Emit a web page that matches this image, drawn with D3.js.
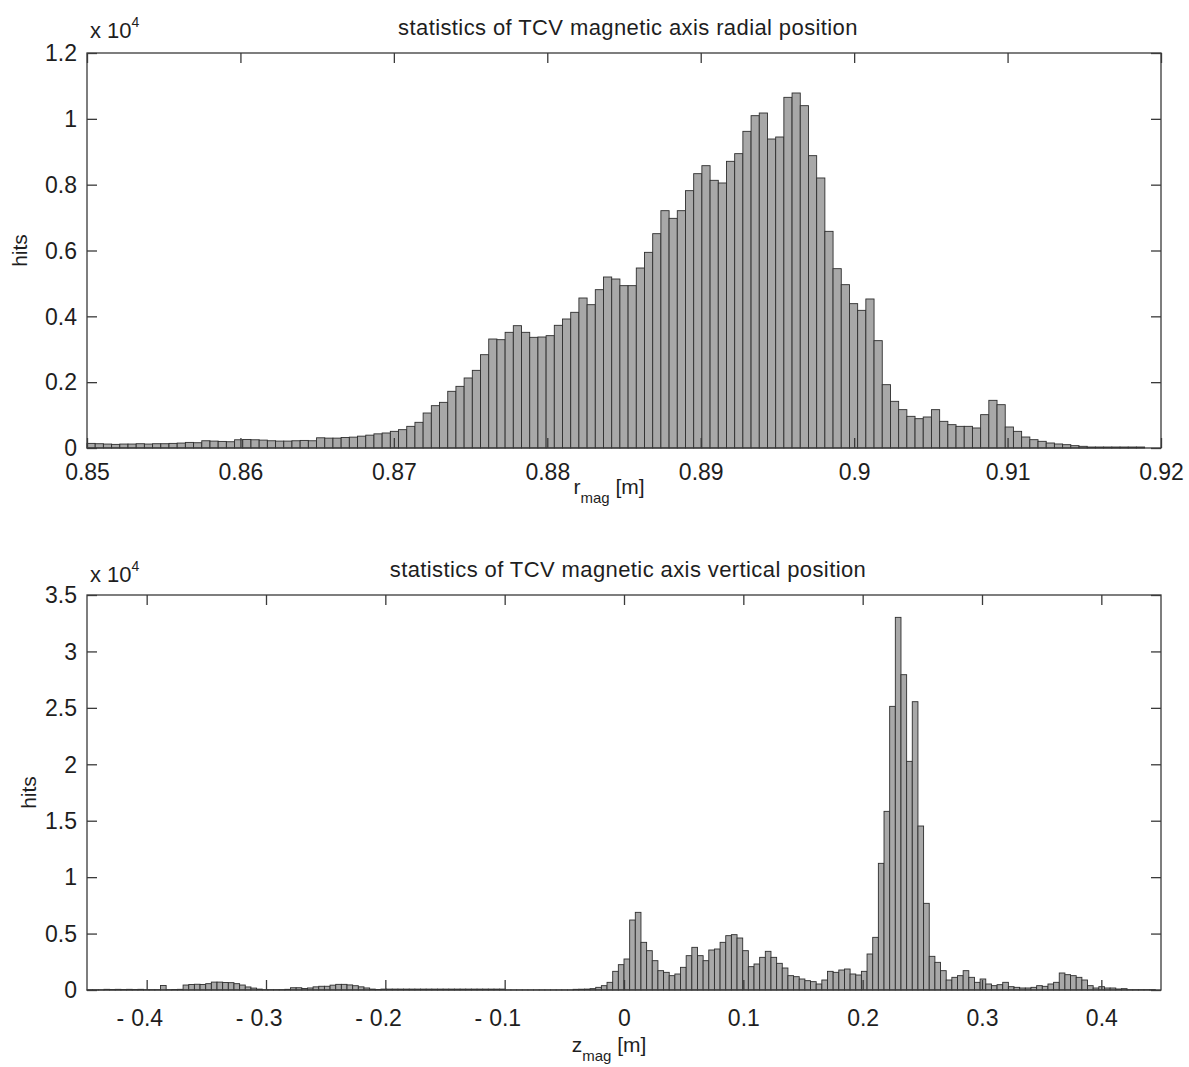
<!DOCTYPE html>
<html><head><meta charset="utf-8">
<script src="https://cdn.jsdelivr.net/npm/d3@7"></script>
<style>
body{margin:0;background:#fff;}
text{font-family:"Liberation Sans",Arial,Helvetica,sans-serif;fill:#1e1e1e;}
</style></head><body>
<svg id="chart" width="1189" height="1067" xmlns="http://www.w3.org/2000/svg"></svg>
<script>
// ---------- data: radial position histogram ----------
const rTitle = "statistics of TCV magnetic axis radial position";
const rBinStart = 0.85, rBinEnd = 0.92;
const rHits = [
  140,130,120,110,120,120,130,120,130,130,140,150,170,160,220,210,200,190,250,260,
  250,240,220,210,210,220,230,220,310,300,300,320,330,360,390,430,
  456,506,557,658,780,1063,1286,1387,1722,1873,2127,2359,2835,3311,3291,3514,3716,3514,
  3362,3372,3413,3727,3919,4122,4557,4354,4810,5195,5134,4932,4932,5468,5944,6511,7210,
  6977,7210,7818,8334,8577,8132,8051,8709,8942,9620,10096,10177,9387,9448,10653,10785,
  10400,8881,8203,6582,5448,4962,4385,4182,4527,3261,1924,1418,1165,962,891,942,1165,
  810,709,658,658,608,1013,1448,1316,638,506,334,253,203,152,122,101,71,51,
  30,30,30,30,30,30,30,0,0
];
const rXTicks = [0.85,0.86,0.87,0.88,0.89,0.90,0.91,0.92];
const rYTicks = [0,2000,4000,6000,8000,10000,12000];

// ---------- data: vertical position histogram ----------
const zTitle = "statistics of TCV magnetic axis vertical position";
const zBinStart = -0.45, zBinEnd = 0.45;
const zHits = [
  20,20,20,60,40,60,40,60,40,60,30,30,30,400,30,40,60,
  440,490,510,490,560,700,700,660,650,560,440,270,170,80,
  30,30,30,30,60,
  200,200,130,180,280,330,330,430,500,500,450,380,280,180,80,40,
  80,80,80,80,80,80,80,80,80,80,80,80,80,80,80,80,80,80,80,80,80,80,
  10,10,10,10,10,10,10,10,10,10,10,10,
  60,70,80,120,
  236,384,679,1654,2245,2747,6202,6881,4223,3485,2599,1713,1565,1270,1418,2008,3042,3780,
  3042,2599,3544,3633,4223,4814,4903,4607,3485,2067,2304,2894,3426,2894,2363,1949,1270,
  1181,975,827,738,532,886,1654,1565,1772,1860,1418,1329,1654,3190,4666,
  11223,15830,25133,33019,27939,20260,25546,14530,7679,2983,2451,1713,886,1122,1270,1713,
  1122,679,975,532,384,
  472,680,295,236,177,177,236,384,325,532,680,1506,1358,1270,1122,886,384,177,295,177,
  177,89,118,30,30,30,30,30,0
];
const zXTicks = [-0.4,-0.3,-0.2,-0.1,0,0.1,0.2,0.3,0.4];
const zYTicks = [0,5000,10000,15000,20000,25000,30000,35000];

const svg = d3.select("#chart");
svg.append("rect").attr("width",1189).attr("height",1067).attr("fill","#fff");

function panel(cfg){
  const g = svg.append("g");
  const x = d3.scaleLinear().domain([cfg.binStart, cfg.binEnd]).range([cfg.left, cfg.right]);
  const y = d3.scaleLinear().domain([0, cfg.yMax]).range([cfg.bottom, cfg.top]);
  const bw = (cfg.binEnd - cfg.binStart) / cfg.hits.length;

  // bars
  g.append("g").selectAll("rect").data(cfg.hits).join("rect")
    .attr("x", (d,i)=>x(cfg.binStart + i*bw))
    .attr("width", (d,i)=>x(cfg.binStart + (i+1)*bw) - x(cfg.binStart + i*bw))
    .attr("y", d=>y(d))
    .attr("height", d=>Math.max(0, y(0)-y(d)))
    .attr("fill", "#a8a8a8")
    .attr("stroke", "#2e2e2e")
    .attr("stroke-width", 0.9);

  const fmtY = v => d3.format("~g")(v/1e4);
  // box
  g.append("rect").attr("x",cfg.left).attr("y",cfg.top)
    .attr("width",cfg.right-cfg.left).attr("height",cfg.bottom-cfg.top)
    .attr("fill","none").attr("stroke","#3a3a3a").attr("stroke-width",1.3);

  const tl = 10;
  // bottom axis
  const ax = g.append("g").attr("transform",`translate(0,${cfg.bottom})`)
    .call(d3.axisBottom(x).tickValues(cfg.xTicks).tickSizeInner(-tl).tickSizeOuter(0)
      .tickFormat(v => d3.format("~g")(Math.abs(v))));
  ax.attr("font-family",null);
  ax.select(".domain").remove();
  ax.selectAll(".tick line").attr("stroke","#3a3a3a").attr("stroke-width",1.3);
  ax.selectAll(".tick text").attr("y", cfg.xLabY).attr("dy",null)
    .attr("font-size",23).attr("fill","#1e1e1e");
  ax.selectAll(".tick").each(function(v){
    if (v < 0) {
      const t = d3.select(this).select("text");
      const w = t.node().getComputedTextLength();
      d3.select(this).append("text").text("-")
        .attr("x", -w/2 - 7).attr("y", cfg.xLabY).attr("text-anchor","end")
        .attr("font-size",23).attr("fill","#1e1e1e");
    }
  });
  // top axis (ticks only)
  const at = g.append("g").attr("transform",`translate(0,${cfg.top})`)
    .call(d3.axisTop(x).tickValues(cfg.xTicks).tickSizeInner(-tl).tickSizeOuter(0).tickFormat(""));
  at.select(".domain").remove();
  at.selectAll(".tick line").attr("stroke","#3a3a3a").attr("stroke-width",1.3);
  // left axis
  const ay = g.append("g").attr("transform",`translate(${cfg.left},0)`)
    .call(d3.axisLeft(y).tickValues(cfg.yTicks).tickSizeInner(-tl).tickSizeOuter(0).tickPadding(10).tickFormat(fmtY));
  ay.select(".domain").remove();
  ay.attr("font-family",null);
  ay.selectAll(".tick line").attr("stroke","#3a3a3a").attr("stroke-width",1.3);
  ay.selectAll(".tick text").attr("font-size",23).attr("fill","#1e1e1e").attr("dy","0.34em");
  // right axis (ticks only)
  const ar = g.append("g").attr("transform",`translate(${cfg.right},0)`)
    .call(d3.axisRight(y).tickValues(cfg.yTicks).tickSizeInner(-tl).tickSizeOuter(0).tickFormat(""));
  ar.select(".domain").remove();
  ar.selectAll(".tick line").attr("stroke","#3a3a3a").attr("stroke-width",1.3);

  // title
  g.append("text").attr("x",628).attr("y",cfg.titleY).attr("text-anchor","middle")
    .attr("font-size",22).attr("letter-spacing",0.4).text(cfg.title);
  // exponent
  const ex = g.append("text").attr("x",cfg.left+3).attr("y",cfg.expY).attr("font-size",22);
  ex.append("tspan").text("x 10");
  ex.append("tspan").attr("dy",-11).attr("font-size",14).text("4");
  // x label
  const xl = g.append("text").attr("x",609).attr("y",cfg.xTitleY).attr("text-anchor","middle").attr("font-size",21);
  xl.append("tspan").text(cfg.xVar);
  xl.append("tspan").attr("dy",9).attr("font-size",15).text("mag");
  xl.append("tspan").attr("dy",-9).text(" [m]");
  // y label
  g.append("text").attr("transform",`translate(${cfg.yTitleX},${(cfg.top+cfg.bottom)/2}) rotate(-90)`)
    .attr("text-anchor","middle").attr("font-size",21).text("hits");
}

panel({title:rTitle, binStart:rBinStart, binEnd:rBinEnd, hits:rHits, xTicks:rXTicks, yTicks:rYTicks,
  yMax:12000, left:87, right:1161, top:53, bottom:448, xLabY:32, titleY:35, expY:38, xTitleY:494, xVar:"r", yTitleX:27});
panel({title:zTitle, binStart:zBinStart, binEnd:zBinEnd, hits:zHits, xTicks:zXTicks, yTicks:zYTicks,
  yMax:35000, left:87, right:1161, top:595, bottom:990, xLabY:36, titleY:577, expY:582, xTitleY:1052, xVar:"z", yTitleX:36});
</script>
</body></html>
